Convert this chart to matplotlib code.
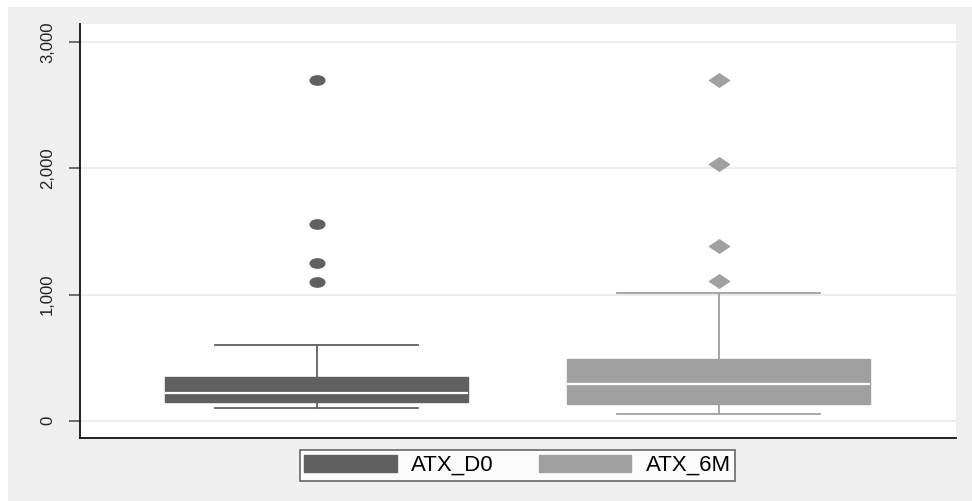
import numpy as np
import matplotlib.pyplot as plt
from matplotlib.path import Path
from matplotlib.patches import Rectangle, Patch

plt.rcParams['font.family'] = ['Liberation Sans', 'DejaVu Sans']

# values
groups = ["ATX_D0", "ATX_6M"]
q1 = [151, 132]
med = [217, 289]
q3 = [349, 489]
whislo = [98, 56]
whishi = [600, 1010]
fliers = [[1102, 1253, 1560, 2701], [1110, 1388, 2033, 2701]]
yticks = [0, 1000, 2000, 3000]
ytick_labels = ["0", "1,000", "2,000", "3,000"]

colors = ['#606060', '#a0a0a0']

# squashed markers (the source image is stretched sideways)
circ = Path.unit_circle()
ellipse = Path(circ.vertices * np.array([1.0, 0.63]), circ.codes)
diamond = Path([(1, 0), (0, 0.67), (-1, 0), (0, -0.67), (1, 0)],
               [Path.MOVETO, Path.LINETO, Path.LINETO, Path.LINETO, Path.CLOSEPOLY])
markers = [(ellipse, 10.6), (diamond, 14.4)]

fig = plt.figure(figsize=(9.72, 5.01), dpi=100, facecolor='white')
fig.patches.append(Rectangle((8 / 972, 0), 1, 494 / 501, transform=fig.transFigure,
                             facecolor='#efefef', edgecolor='none', zorder=-10))
ax = fig.add_axes([80 / 972, 63 / 501, 876 / 972, 414 / 501])
ax.set_facecolor('white')

for i in range(len(groups)):
    stats = [dict(med=med[i], q1=q1[i], q3=q3[i], whislo=whislo[i],
                  whishi=whishi[i], fliers=fliers[i])]
    c = colors[i]
    ax.bxp(stats, positions=[i + 1], widths=0.753, patch_artist=True,
           boxprops=dict(facecolor=c, edgecolor=c, linewidth=1),
           medianprops=dict(color='white', linewidth=1.6),
           whiskerprops=dict(color=c, linewidth=1.3),
           capprops=dict(color=c, linewidth=1.3),
           capwidths=0.505,
           flierprops=dict(marker=markers[i][0], markersize=markers[i][1],
                           markerfacecolor=c, markeredgecolor=c, linestyle='none'),
           manage_ticks=False, zorder=3)

ax.set_xlim(0.411, 2.59)
ax.set_ylim(-137, 3145)
ax.set_xticks([])
ax.set_yticks(yticks)
ax.set_yticklabels(ytick_labels, rotation=90, va='center', fontsize=12, color='#222222')
ax.tick_params(axis='y', length=8, width=1.2, color='#555555', pad=10)
ax.grid(axis='y', color='#eaeaea', linewidth=1.3, zorder=0)
ax.set_axisbelow(True)
for s in ['top', 'right']:
    ax.spines[s].set_visible(False)
for s in ['left', 'bottom']:
    ax.spines[s].set_color('#111111')
    ax.spines[s].set_linewidth(1.3)

handles = [Patch(facecolor=colors[k], edgecolor=colors[k], label=groups[k]) for k in range(2)]
leg = fig.legend(handles=handles, loc='center', bbox_to_anchor=(517.5 / 972, 35.5 / 501),
                 ncol=2, fontsize=16, frameon=True, fancybox=False,
                 handlelength=4.15, handleheight=0.77, handletextpad=0.63,
                 columnspacing=2.07, borderpad=0.22, borderaxespad=0)
leg.get_frame().set_edgecolor('#444444')
leg.get_frame().set_linewidth(1.2)

fig.savefig('out.png', dpi=100, facecolor=fig.get_facecolor())
